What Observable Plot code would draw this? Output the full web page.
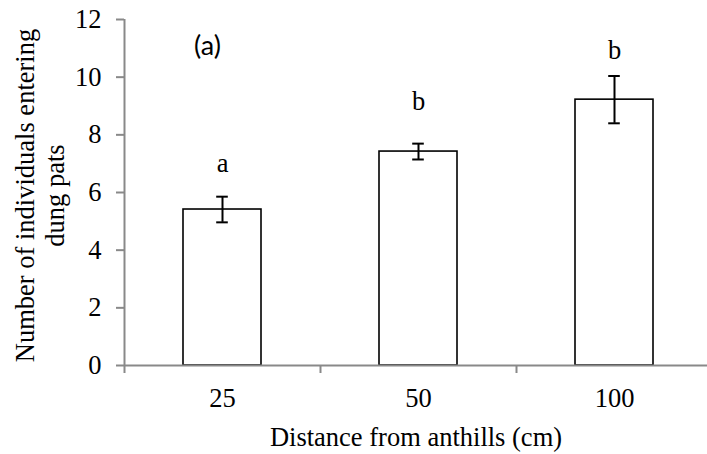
<!DOCTYPE html>
<html>
<head>
<meta charset="utf-8">
<script src="https://cdn.jsdelivr.net/npm/d3@7"></script>
<script src="https://cdn.jsdelivr.net/npm/@observablehq/plot@0.6"></script>
<style>
  html, body { margin: 0; padding: 0; background: #fff; }
</style>
</head>
<body>
<div id="chart"></div>
<script>
const categories = ["25", "50", "100"];
const means = [5.41, 7.42, 9.22];
const errors = [0.445, 0.275, 0.82];
const letters = ["a", "b", "b"];
const letterY = [6.71, 8.85, 10.64];
const yTicks = [0, 2, 4, 6, 8, 10, 12];
const panelLabel = "(a)";
const xTitle = "Distance from anthills (cm)";
const yTitle = "Number of individuals entering\ndung pats";

const rows = categories.map((c, i) => ({
  cat: c, mean: means[i], lo: means[i] - errors[i], hi: means[i] + errors[i],
  letter: letters[i], ly: letterY[i]
}));

const W = 707, H = 454;
const mL = 124, mT = 19, mB = 89;
const xRange = [124, 712];
const step = (xRange[1] - xRange[0]) / categories.length;
const grey = "#898989";
const serif = "'Liberation Serif', 'Times New Roman', serif";
const fs = 26.5;
const capInset = (step * 0.4 - 12) / 2;

const chart = Plot.plot({
  width: W,
  height: H,
  marginLeft: mL,
  marginRight: 0,
  marginTop: mT,
  marginBottom: mB,
  style: {fontFamily: serif, fontSize: fs + "px", background: "white", color: "black", overflow: "visible"},
  x: {type: "band", domain: categories, range: xRange, paddingInner: 0.6, paddingOuter: 0.3, axis: null},
  y: {domain: [0, 12], axis: null},
  marks: [
    Plot.barY(rows, {x: "cat", y: "mean", fill: "white", stroke: "black", strokeWidth: 1.6}),
    Plot.ruleX(rows, {x: "cat", y1: "lo", y2: "hi", stroke: "black", strokeWidth: 2}),
    Plot.tickY(rows, {x: "cat", y: "lo", stroke: "black", strokeWidth: 2, insetLeft: capInset, insetRight: capInset}),
    Plot.tickY(rows, {x: "cat", y: "hi", stroke: "black", strokeWidth: 2, insetLeft: capInset, insetRight: capInset}),
    Plot.text(rows, {x: "cat", y: "ly", text: "letter", lineAnchor: "bottom", fontFamily: serif, fontSize: fs, fill: "black"}),
    // axes
    Plot.ruleY([0], {stroke: grey, strokeWidth: 2}),
    Plot.ruleX([categories[0]], {x: d => d, y1: 0, y2: 12, dx: -step / 2, stroke: grey, strokeWidth: 2}),
    Plot.axisX({tickSize: 8, text: null, dx: -step / 2, stroke: grey, strokeWidth: 2, label: null}),
    Plot.axisX({tickSize: 0, tickPadding: 23, fill: "black", fontSize: fs, fontFamily: serif, label: null}),
    Plot.axisY({ticks: yTicks, tickSize: 8, tickPadding: 15, stroke: grey, strokeWidth: 2, fill: "black", fontSize: fs, fontFamily: serif, label: null}),
    // titles
    Plot.text([xTitle], {frameAnchor: "bottom", dy: 72, lineAnchor: "middle", fontFamily: serif, fontSize: fs, fill: "black"}),
    Plot.text([yTitle], {frameAnchor: "left", dx: -85, dy: 3, rotate: -90, textAnchor: "middle", lineAnchor: "middle", lineHeight: 1.13, fontFamily: serif, fontSize: fs, fill: "black"}),
    Plot.text([panelLabel], {x: () => categories[0], y: () => 11.06, dx: -15, lineAnchor: "middle", fontFamily: "Lato, 'Open Sans', sans-serif", fontSize: 27, fill: "black"})
  ]
});
document.getElementById("chart").appendChild(chart);
</script>
</body>
</html>
